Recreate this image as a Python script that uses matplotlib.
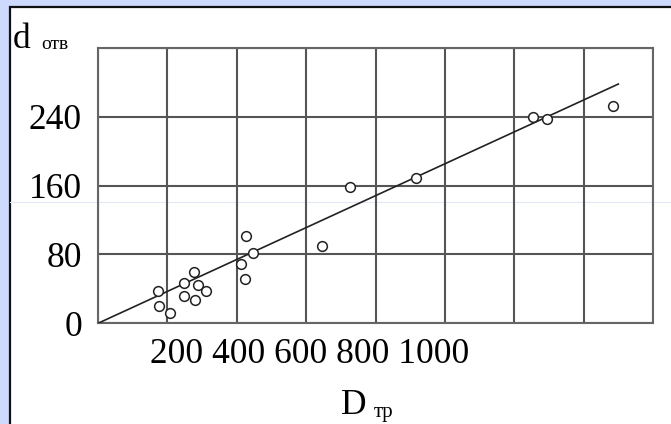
import numpy as np
import matplotlib.pyplot as plt
from matplotlib.patches import Rectangle
from matplotlib.lines import Line2D

# D тр (x) and d отв (y)
D_tr = [172, 176, 208, 249, 249, 278, 287, 280, 311,
        427, 447, 412, 424, 647, 727, 917, 1255, 1293, 1485]
d_otv = [37.5, 20, 12, 47, 32, 60, 45, 27, 37.5,
         101.5, 82, 69, 52, 89.5, 158, 168.5, 240, 237, 252.5]

# fitted line through origin
line_x = [0, 1500]
slope = 0.1854

y_ticks = [0, 80, 160, 240, 320]
y_ticklabels = ["0", "80", "160", "240", ""]
x_labels = ["200", "400", "600", "800", "1000"]

W, H = 671, 424
plt.rcParams['font.family'] = ['Liberation Serif', 'DejaVu Serif']
FS = 25.5

fig = plt.figure(figsize=(W / 100, H / 100), dpi=100)
fig.patch.set_facecolor("#cdd9fd")

# white panel with black border (only left/top visible)
panel = Rectangle((9.5 / W, -0.1), 1.2, 1 - 6.5 / H + 0.1, transform=fig.transFigure,
                  facecolor="white", edgecolor="#111111", linewidth=1.6, zorder=-2)
fig.patches.append(panel)
fig.add_artist(Line2D([10 / W, 1], [1 - 202 / H, 1 - 202 / H], transform=fig.transFigure,
                      color="#e3e8f6", linewidth=0.8, zorder=-1))

ax = fig.add_axes([98 / W, 1 - 323.3 / H, (653 - 98) / W, (323.3 - 48) / H])
ax.set_facecolor("none")
ax.set_xlim(0, 1600)
ax.set_ylim(0, 320)
ax.set_xticks(np.arange(0, 1601, 200))
ax.set_xticklabels([])
ax.set_yticks(y_ticks)
ax.set_yticklabels(y_ticklabels, fontsize=FS)
ax.tick_params(length=0, pad=11.5)
ax.grid(True, color="#555555", linewidth=1.5)
for s in ax.spines.values():
    s.set_color("#666666")
    s.set_linewidth(1.5)

lx = np.array(line_x)
ax.plot(lx, slope * lx, color="#222222", linewidth=1.2, zorder=3)
ax.plot(D_tr, d_otv, 'o', markersize=7, markerfacecolor="white",
        markeredgecolor="#222222", markeredgewidth=1.1, zorder=4, clip_on=False)

def px(x, y):
    return x / W, 1 - y / H

fig.text(*px(150, 363), " ".join(x_labels), fontsize=FS, ha="left", va="baseline")
fig.text(*px(13, 48), "d", fontsize=FS, ha="left", va="baseline")
fig.text(*px(41, 49), "отв", fontsize=14, ha="left", va="baseline")
fig.text(*px(341, 414), "D", fontsize=FS, ha="left", va="baseline")
fig.text(*px(374, 417), "тр", fontsize=15, ha="left", va="baseline")

fig.savefig("out.png", dpi=100, facecolor=fig.get_facecolor())
